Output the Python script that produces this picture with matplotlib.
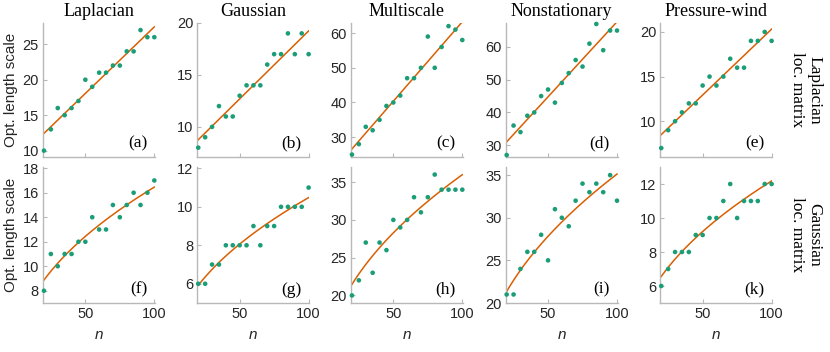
import numpy as np
import matplotlib
matplotlib.use("Agg")
import matplotlib.pyplot as plt

n = np.arange(20, 101, 5)

titles = ["Laplacian", "Gaussian", "Multiscale", "Nonstationary", "Pressure-wind"]
row_labels = ["Laplacian\nloc. matrix", "Gaussian\nloc. matrix"]
panel_labels = ["(a)", "(b)", "(c)", "(d)", "(e)", "(f)", "(g)", "(h)", "(i)", "(k)"]

# Top row: Laplacian localisation matrix
lap_laplacian = [10, 13, 16, 15, 16, 17, 20, 19, 21, 21, 22, 22, 24, 24, 27, 26, 26]
lap_gaussian = [8, 9, 10, 12, 11, 11, 13, 14, 14, 14, 16, 17, 17, 19, 17, 19, 17]
lap_multiscale = [25, 28, 33, 32, 35, 39, 40, 42, 47, 47, 50, 59, 50, 56, 62, 61, 58]
lap_nonstat = [27, 36, 34, 39, 40, 45, 47, 43, 49, 52, 56, 54, 61, 67, 59, 65, 65]
lap_pressure = [7, 9, 10, 11, 12, 12, 14, 15, 14, 15, 17, 16, 16, 19, 19, 20, 19]

# Bottom row: Gaussian localisation matrix
gau_laplacian = [8, 11, 10, 11, 11, 12, 12, 14, 13, 13, 15, 14, 15, 16, 15, 16, 17]
gau_gaussian = [6, 6, 7, 7, 8, 8, 8, 8, 9, 8, 9, 9, 10, 10, 10, 10, 11]
gau_multiscale = [20, 22, 27, 23, 27, 26, 30, 29, 30, 33, 31, 33, 36, 34, 34, 34, 34]
gau_nonstat = [21, 21, 24, 26, 26, 28, 25, 31, 30, 29, 32, 34, 33, 34, 33, 35, 32]
gau_pressure = [6, 7, 8, 8, 8, 9, 9, 10, 10, 11, 12, 10, 11, 11, 11, 12, 12]

data = [[lap_laplacian, lap_gaussian, lap_multiscale, lap_nonstat, lap_pressure],
        [gau_laplacian, gau_gaussian, gau_multiscale, gau_nonstat, gau_pressure]]

ylims = [[(9.1, 28.0), (7.1, 20.0), (24.3, 62.9), (26.4, 67.3), (6.0, 21.0)],
         [(7.0, 18.1), (5.0, 12.07), (19.0, 37.0), (20.0, 35.95), (5.0, 13.0)]]
yticks = [[[10, 15, 20, 25], [10, 15, 20], [30, 40, 50, 60], [30, 40, 50, 60], [10, 15, 20]],
          [[8, 10, 12, 14, 16, 18], [6, 8, 10, 12], [20, 25, 30, 35], [20, 25, 30, 35], [6, 8, 10, 12]]]

dot_color = "#1b9e77"
line_color = "#d95f02"
spine_color = "#b8b8b8"
text_color = "#262626"

sans = ["Liberation Sans", "DejaVu Sans"]
serif = ["Liberation Serif", "DejaVu Serif"]
plt.rcParams["font.family"] = sans

fig = plt.figure(figsize=(8.3, 3.52), dpi=100)
W, H = 830.0, 352.0
lefts = [43, 197.3, 351, 505.7, 660.3]
width = 112
row_top = [23, 167]
row_h = [134, 136]

nn = np.linspace(20, 100, 200)
for r in range(2):
    for c in range(5):
        l = lefts[c] / W
        b = 1 - (row_top[r] + row_h[r]) / H
        ax = fig.add_axes([l, b, width / W, row_h[r] / H])
        y = np.array(data[r][c], dtype=float)
        if r == 0:
            p = np.polyfit(n, y, 1)
            fit = np.polyval(p, nn)
        else:
            p = np.polyfit(np.sqrt(n), y, 1)
            fit = np.polyval(p, np.sqrt(nn))
        ax.plot(nn, fit, color=line_color, lw=1.1, zorder=2)
        ax.scatter(n, y, s=11, color=dot_color, edgecolors="none", zorder=3, clip_on=False)
        ax.set_xlim(19.3, 100.5)
        ax.set_ylim(*ylims[r][c])
        ax.set_xticks([50, 100])
        ax.set_yticks(yticks[r][c])
        for s in ["top", "right"]:
            ax.spines[s].set_visible(False)
        for s in ["left", "bottom"]:
            ax.spines[s].set_color(spine_color)
            ax.spines[s].set_linewidth(1.0)
        ax.tick_params(direction="in", length=3, color=spine_color, labelsize=10.5,
                       labelcolor=text_color, pad=3)
        if r == 0:
            ax.tick_params(axis="x", labelbottom=False)
            ax.set_title(titles[c], fontfamily=serif, fontsize=13, color="black", pad=5)
        else:
            ax.set_xlabel("n", fontstyle="italic", fontsize=11, color=text_color, labelpad=5)
        if c == 0:
            ax.set_ylabel("Opt. length scale", fontsize=11, color=text_color)
            ax.yaxis.set_label_coords(-0.22, 0.5)
        ax.text(0.93, 0.04, panel_labels[r * 5 + c], transform=ax.transAxes, ha="right",
                va="bottom", fontfamily=serif, fontsize=12.5, color="black")

for r in range(2):
    yc = 1 - (row_top[r] + row_h[r] / 2) / H
    fig.text(806 / W, yc, row_labels[r], rotation=270, ha="center", va="center",
             fontfamily=serif, fontsize=12.5, color="black", linespacing=1.1)

fig.savefig("out.png", dpi=100)
